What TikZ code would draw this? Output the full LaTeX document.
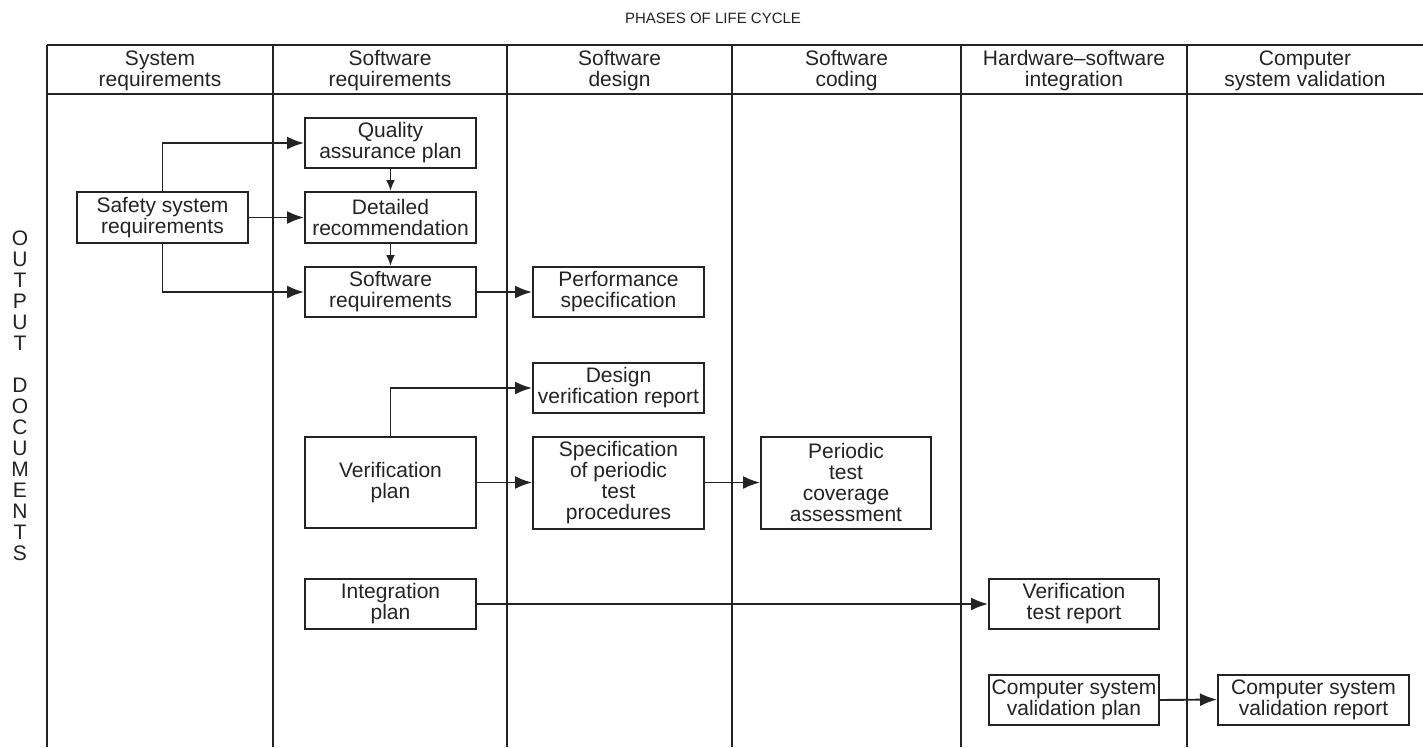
\documentclass[tikz,border=0pt]{standalone}
\usepackage{fontspec}
\setmainfont{Liberation Sans}
\usetikzlibrary{arrows.meta}
\definecolor{ink}{RGB}{35,35,35}
\begin{document}
\begin{tikzpicture}[x=1pt,y=-1pt,
  every node/.style={font=\fontsize{21}{21}\selectfont, text=ink},
  box/.style={draw=ink, line width=2pt, minimum width=171pt, inner sep=0pt, align=center},
  hdr/.style={align=center, inner sep=0pt},
  grid/.style={draw=ink, line width=2.4pt},
  arr/.style={draw=ink, line width=1.9pt, -{Latex[length=17pt,width=13pt]}},
  varr/.style={draw=ink, line width=1.9pt, -{Latex[length=11pt,width=9pt]}}]
\useasboundingbox (0,0) rectangle (1423,747);

% title
\node[font=\fontsize{15}{15}\selectfont] (title) at (713,18) {PHASES OF LIFE CYCLE};

% phase table: header band and column rules
\draw[grid] (47,45) -- (1423,45);
\draw[grid] (47,94) -- (1423,94);
\foreach \x in {47,273,507,732,961,1187}
  \draw[grid] (\x,45) -- (\x,747);

% phase headings
\node[hdr] (h1) at (160,71)    {System\\requirements};
\node[hdr] (h2) at (390,71)    {Software\\requirements};
\node[hdr] (h3) at (619.5,71)  {Software\\design};
\node[hdr] (h4) at (846.5,71)  {Software\\coding};
\node[hdr] (h5) at (1074,71)   {Hardware--software\\integration};
\node[hdr] (h6) at (1305,71)   {Computer\\system validation};

% side label
\node[hdr] (side) at (20,395.5) {O\\U\\T\\P\\U\\T\\[21pt]D\\O\\C\\U\\M\\E\\N\\T\\S};

% output documents
\node[box, minimum height=51pt] (safety)   at (162.5,217.5) {Safety system\\requirements};
\node[box, minimum height=50pt] (quality)  at (390.5,143)   {Quality\\assurance plan};
\node[box, minimum height=51pt] (detailed) at (390.5,217.5) {Detailed\\recommendation};
\node[box, minimum height=50pt] (swreq)    at (390.5,292)   {Software\\requirements};
\node[box, minimum height=50pt] (perf)     at (618.5,292)   {Performance\\specification};
\node[box, minimum height=50pt] (desver)   at (618.5,388)   {Design\\verification report};
\node[box, minimum height=91pt] (verplan)  at (390.5,482.5) {Verification\\plan};
\node[box, minimum height=92pt] (specper)  at (618.5,482.5) {Specification\\of periodic\\test\\procedures};
\node[box, minimum height=92pt, minimum width=170pt] (periodic) at (846,482.5) {Periodic\\test\\coverage\\assessment};
\node[box, minimum height=50pt] (integ)    at (390.5,604)   {Integration\\plan};
\node[box, minimum height=50pt, minimum width=170pt] (vtr)     at (1074,604) {Verification\\test report};
\node[box, minimum height=50pt, minimum width=170pt] (csvplan) at (1074,700) {Computer system\\validation plan};
\node[box, minimum height=50pt, minimum width=191pt] (csvrep)  at (1313.5,699.5) {Computer system\\validation report};

% flows between documents
\draw[arr] (safety.north) |- (quality.west);
\draw[arr] (safety.east) -- (detailed.west);
\draw[arr] (safety.south) |- (swreq.west);
\draw[varr] (quality.south) -- (detailed.north);
\draw[varr] (detailed.south) -- (swreq.north);
\draw[arr] (swreq.east) -- (perf.west);
\draw[arr] (verplan.north) |- (desver.west);
\draw[arr] (verplan.east) -- (specper.west);
\draw[arr] (specper.east) -- (periodic.west);
\draw[arr] (integ.east) -- (vtr.west);
\draw[arr] (csvplan.east) -- (csvrep.west);
\end{tikzpicture}
\end{document}
